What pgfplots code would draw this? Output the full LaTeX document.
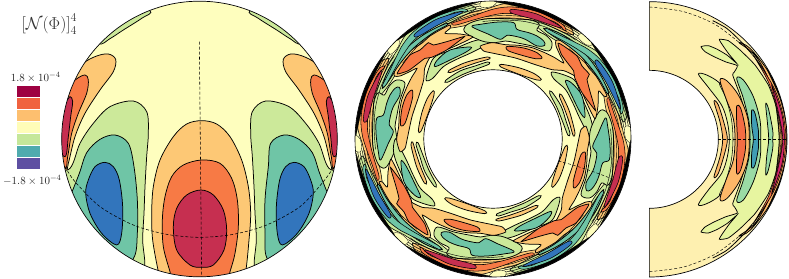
\documentclass[border=0pt]{standalone}
\usepackage{pgfplots}
\usepackage{pgfplotstable}
\pgfplotsset{compat=1.18}
\definecolor{cM}{HTML}{C62F50}
\definecolor{cO}{HTML}{F77A45}
\definecolor{cL}{HTML}{FDC875}
\definecolor{cY}{HTML}{FEFEBE}
\definecolor{cG}{HTML}{CCE99A}
\definecolor{cT}{HTML}{6FC5A6}
\definecolor{cB}{HTML}{3275BC}
\definecolor{lA}{HTML}{9E0142}
\definecolor{lB}{HTML}{F0623F}
\definecolor{lC}{HTML}{FDBF6F}
\definecolor{lD}{HTML}{FFFDB8}
\definecolor{lE}{HTML}{C5E79A}
\definecolor{lF}{HTML}{4FABAE}
\definecolor{lG}{HTML}{5E4FA2}
\definecolor{mY}{HTML}{FEF0B0}
\definecolor{mG}{HTML}{E7F5A0}
\definecolor{mT}{HTML}{9ADBA5}
\definecolor{mL}{HTML}{FDB768}
\definecolor{mO}{HTML}{F46D43}
\definecolor{mB}{HTML}{3F9DB5}
\definecolor{mM}{HTML}{D5246A}
\pgfplotsset{
  base/.style={hide axis,scale only axis,width=789pt,height=279pt,ymin=0,ymax=837,y dir=reverse,at={(0,0)},anchor=south west},
  blob/.style={fill=#1,draw=black,line width=.75pt,mark=none,smooth cycle,tension=.55},
  thin blob/.style={fill=#1,draw=black,line width=.55pt,mark=none,smooth cycle,tension=.55},
  cont/.style={draw=black,line width=.45pt,mark=none,smooth,fill=none},
  rect/.style={fill=#1,draw=white,line width=.4pt,mark=none,sharp plot},
  /pgfplots/table/rt/.style={x expr={429+cos(#1)*(\thisrow{x}-429)-sin(#1)*(\thisrow{y}-417)},y expr={417+sin(#1)*(\thisrow{x}-429)+cos(#1)*(\thisrow{y}-417)}},
}
% annulus sector: traced contours, repeated around the ring
\pgfplotstableread[row sep=\\]{x y\\86.4 576.8\\49.8 484\\37 431\\23 374\\40 275\\78 198\\109.5 176\\116 181\\102 228\\73.5 322\\67 417\\80 466\\92 516\\97 561\\}\tBa
\pgfplotstableread[row sep=\\]{x y\\82 541\\67 496\\49 446\\37 406\\33 356\\46 283\\82 213\\100 198\\103 203\\78 232\\60 295\\52 376\\59 426\\72 476\\87 528\\}\tBb
\pgfplotstableread[row sep=\\]{x y\\40 358\\54 286\\90 216\\94 221\\70 294\\52 360\\}\tBc
\pgfplotstableread[row sep=\\]{x y\\11 410\\17 344\\36 274\\67 208\\104 154\\108 157\\78 214.5\\49 279\\31 347\\17 410\\}\tBk
\pgfplotstableread[row sep=\\]{x y\\112 150\\125 128\\145 118\\147 136\\132 156\\120 163\\}\tPa
\pgfplotstableread[row sep=\\]{x y\\62.5 449\\58.5 384.6\\63 318.8\\80 254\\108.8 192.6\\127.2 163.7\\}\tLa
\pgfplotstableread[row sep=\\]{x y\\55.5 449.6\\51.5 384\\56 317\\73.8 251.2\\103 188.5\\121.8 159.2\\}\tLb
\pgfplotstableread[row sep=\\]{x y\\69.4 448.4\\65.5 385.2\\69.6 320.7\\86.5 257\\114.5 196.6\\132.6 168.2\\}\tLc
\pgfplotstableread[row sep=\\]{x y\\76.4 447.8\\72.4 385.9\\76.4 322.5\\92.9 260\\120.2 200.6\\138 172.7\\}\tLd
\pgfplotstableread[row sep=\\]{x y\\49.4 315\\67.5 248\\97.3 184.5\\116.5 154.7\\}\tLe
\pgfplotstableread[row sep=\\]{x y\\165 250\\150 300\\140 350\\135 380\\140 410\\135 450\\110 500\\90 500\\75 470\\68 430\\68 380\\70 330\\72 300\\85 278\\103 285\\118 258\\140 240\\}\tGa
\pgfplotstableread[row sep=\\]{x y\\228 240\\240 195\\258 168\\310 148\\365 125\\400 118\\430 125\\400 140\\360 160\\320 178\\280 200\\248 235\\}\tGb
\pgfplotstableread[row sep=\\]{x y\\150 455\\140 420\\146 380\\148 340\\155 300\\170 262\\185 232\\201 205\\175 217\\150 228\\133 228\\135 205\\155 178\\180 152\\215 130\\240 108\\270 90\\300 75\\300 85\\285 100\\330 102\\368 110\\350 122\\300 145\\262 158\\240 172\\224 205\\221 240\\206 290\\186 350\\171 420\\165 445\\}\tLO
\pgfplotstableread[row sep=\\]{x y\\205 392\\215 340\\232 295\\250 272\\252 285\\238 330\\225 365\\212 395\\}\tLi
\pgfplotstableread[row sep=\\]{x y\\297 211\\340 190\\380 178\\412 171\\420 176\\380 188\\340 202\\300 218\\}\tLj
\pgfplotstableread[row sep=\\]{x y\\287 241\\330 213\\375 198\\412 186\\418 192\\380 207\\335 225\\292 247\\}\tGi
\pgfplotstableread[row sep=\\]{x y\\97 265\\108 225\\125 195\\150 165\\180 135\\215 108\\255 85\\290 70\\292 75\\255 95\\222 118\\190 145\\165 172\\140 205\\118 240\\}\tTc
\pgfplotstableread[row sep=\\]{x y\\148 262\\150 285\\130 320\\122 345\\118 375\\130 395\\115 430\\92 480\\85 455\\78 400\\80 355\\100 345\\110 310\\120 285\\135 265\\}\tTa
\pgfplotstableread[row sep=\\]{x y\\255 200\\262 180\\300 150\\362 141\\350 155\\300 180\\}\tTb
\pgfplotstableread[row sep=\\]{x y\\142 222\\150 205\\180 165\\210 150\\235 128\\250 135\\290 125\\340 110\\340 113\\290 150\\245 172\\225 175\\205 190\\175 212\\}\tOa
\pgfplotstableread[row sep=\\]{x y\\151 370\\156 325\\170 285\\186 270\\188 290\\178 330\\165 370\\155 378\\}\tOb
\begin{document}
\begin{tikzpicture}
%====== sphere
\begin{axis}[base,xmin=0,xmax=2367]
\addplot[fill=cY,draw=none,mark=none,sharp plot] coordinates {(150,0)(1030,0)(1030,837)(150,837)};
\addplot[blob=cG] coordinates {(450,32)(425,55)(370,90)(330,116)(295,132)(240,90)(350,0)};
\addplot[blob=cG] coordinates {(750,32)(775,55)(830,90)(870,116)(905,132)(960,90)(850,0)};
\addplot[blob=cL] coordinates {(325,162)(347,178)(340,215)(300,270)(255,340)(225,410)(205,490)(190,535)(120,500)(120,300)(215,235)(250,190)(290,168)};
\addplot[blob=cO] coordinates {(255,225)(265,240)(260,280)(235,340)(215,400)(203,470)(192,505)(130,400)(150,300)(225,240)};
\addplot[blob=cM] coordinates {(210,290)(218,305)(212,350)(205,410)(195,470)(160,420)(165,350)(195,310)};
\addplot[blob=cL] coordinates {(872,162)(850,178)(857,215)(897,270)(942,340)(972,410)(992,490)(1007,535)(1077,500)(1077,300)(982,235)(947,190)(907,168)};
\addplot[blob=cO] coordinates {(942,225)(932,240)(937,280)(962,340)(982,400)(994,470)(1005,505)(1067,400)(1047,300)(972,240)};
\addplot[blob=cM] coordinates {(987,290)(979,305)(985,350)(992,410)(1002,470)(1037,420)(1032,350)(1002,310)};
\addplot[blob=cG] coordinates {(400,303)(440,335)(445,400)(440,470)(435,560)(432,640)(428,720)(432,810)(380,860)(120,700)(150,530)(210,505)(240,430)(280,370)(330,320)};
\addplot[blob=cT] coordinates {(345,405)(385,430)(402,500)(412,600)(412,700)(402,772)(350,810)(170,680)(210,590)(238,520)(260,458)(300,418)};
\addplot[blob=cB] coordinates {(315,487)(340,500)(358,540)(368,620)(365,700)(350,735)(305,700)(270,640)(257,580)(265,540)(285,500)};
\addplot[blob=cG] coordinates {(797,303)(757,335)(752,400)(757,470)(762,560)(765,640)(769,720)(765,810)(817,860)(1077,700)(1047,530)(987,505)(957,430)(917,370)(867,320)};
\addplot[blob=cT] coordinates {(852,405)(812,430)(805,500)(795,600)(795,700)(800,772)(847,810)(1027,680)(987,590)(959,520)(937,458)(897,418)};
\addplot[blob=cB] coordinates {(882,487)(857,500)(839,540)(829,620)(832,700)(847,735)(892,700)(927,640)(940,580)(932,540)(912,500)};
\addplot[blob=cL] coordinates {(605,362)(560,372)(520,410)(480,480)(460,560)(455,640)(458,720)(475,815)(490,880)(720,880)(737,815)(747,720)(752,640)(745,560)(725,480)(690,410)(650,372)};
\addplot[blob=cO] coordinates {(605,480)(550,495)(515,530)(495,590)(487,660)(490,740)(510,815)(530,880)(670,880)(690,815)(705,760)(715,680)(712,600)(695,535)(660,490)};
\addplot[blob=cM] coordinates {(603,570)(560,585)(530,625)(520,680)(530,750)(570,795)(605,802)(640,795)(672,750)(680,690)(670,630)(640,585)};
\addplot[black,densely dashed,line width=.55pt,mark=none,smooth] coordinates {(195,500)(225,545)(300,620)(400,675)(500,703)(600,712)(700,703)(800,675)(900,620)(970,545)(1002,500)};
\addplot[black,densely dashed,line width=.55pt,mark=none] coordinates {(598,125)(605,835)};
\fill[white,even odd rule] (axis cs:0,0) rectangle (axis cs:1035,837) (axis cs:598.5,417) circle[radius=137.8pt];
\draw[black,line width=.7pt] (axis cs:598.5,417) circle[radius=137.8pt];
\addplot[rect=lA] coordinates {(52,255)(122,255)(122,291)(52,291)};
\addplot[rect=lB] coordinates {(52,291)(122,291)(122,327)(52,327)};
\addplot[rect=lC] coordinates {(52,327)(122,327)(122,363)(52,363)};
\addplot[rect=lD] coordinates {(52,363)(122,363)(122,400)(52,400)};
\addplot[rect=lE] coordinates {(52,400)(122,400)(122,436)(52,436)};
\addplot[rect=lF] coordinates {(52,436)(122,436)(122,472)(52,472)};
\addplot[rect=lG] coordinates {(52,472)(122,472)(122,508)(52,508)};
\node[font=\fontsize{10.8}{12}\selectfont,text=black!85] at (axis cs:107,233) {$1.8\times10^{-4}$};
\node[font=\fontsize{10.8}{12}\selectfont,text=black!85] at (axis cs:97,541) {$-1.8\times10^{-4}$};
\node[font=\fontsize{18}{20}\selectfont,text=black!80] at (axis cs:148,72) {$\left[\mathcal{N}(\Phi)\right]^4_4$};
\end{axis}
%====== annulus
\begin{axis}[base,xmin=-1050,xmax=1317]
\addplot[fill=cY,draw=none,mark=none,sharp plot] coordinates {(0,0)(860,0)(860,837)(0,837)};
\pgfplotsinvokeforeach{0,90,180,270}{\addplot[thin blob=cL] table[rt=#1] {\tBa};}
\pgfplotsinvokeforeach{45,135,225,315}{\addplot[thin blob=cG] table[rt=#1] {\tBa};}
\pgfplotsinvokeforeach{0,90,180,270}{
\addplot[blob=cG] table[rt=#1] {\tGa};
\addplot[blob=cG] table[rt=#1] {\tGb};
}
\pgfplotsinvokeforeach{0,90,180,270}{
\addplot[blob=cL,tension=.4] table[rt=#1] {\tLO};
\addplot[blob=cL] table[rt=#1] {\tLi};
\addplot[blob=cL] table[rt=#1] {\tLj};
\addplot[blob=cG] table[rt=#1] {\tGi};
}
\pgfplotsinvokeforeach{0,45,90,135,180,225,270,315}{
\addplot[cont] table[rt=#1] {\tLa};
\addplot[cont] table[rt=#1] {\tLb};
\addplot[cont] table[rt=#1] {\tLc};
\addplot[cont] table[rt=#1] {\tLd};
\addplot[cont] table[rt=#1] {\tLe};
}
\pgfplotsinvokeforeach{0,90,180,270}{
\addplot[thin blob=cO] table[rt=#1] {\tBb};
\addplot[thin blob=cM] table[rt=#1] {\tBc};
\addplot[blob=cT] table[rt=#1] {\tTc};
}
\pgfplotsinvokeforeach{45,135,225,315}{
\addplot[thin blob=cT] table[rt=#1] {\tBb};
\addplot[thin blob=cB] table[rt=#1] {\tBc};
}
\pgfplotsinvokeforeach{0,45,90,135,180,225,270,315}{
\addplot[fill=black,draw=black,line width=.2pt,mark=none,smooth cycle,tension=.5] table[rt=#1] {\tBk};
\addplot[fill=cY,draw=black,line width=.35pt,mark=none,smooth cycle,tension=.55] table[rt=#1] {\tPa};
}
\pgfplotsinvokeforeach{0,90,180,270}{
\addplot[blob=cT] table[rt=#1] {\tTa};
\addplot[blob=cT] table[rt=#1] {\tTb};
\addplot[blob=cO,tension=.35] table[rt=#1] {\tOa};
\addplot[blob=cO] table[rt=#1] {\tOb};
}
\fill[white,even odd rule] (axis cs:-30,-10) rectangle (axis cs:880,847) (axis cs:429,417) circle[radius=138pt];
\draw[black,line width=.6pt] (axis cs:429,417) circle[radius=138pt];
\draw[black,line width=.7pt,fill=white] (axis cs:429,417) circle[radius=69.2pt];
\addplot[black,densely dashed,line width=.45pt,mark=none,smooth] coordinates {(625,483)(675,497)(735,517)(795,540)};
\end{axis}
%====== meridional slice
\begin{axis}[base,xmin=-1920,xmax=447,clip=false]
\fill[mY] (axis cs:28,5) arc[start angle=90,end angle=-90,radius=137.67pt] -- (axis cs:28,625) arc[start angle=-90,end angle=90,radius=69pt] -- cycle;
\addplot[blob=mG,tension=.3] coordinates {(238,118)(265,122)(300,150)(345,195)(385,255)(408,320)(418,418)(408,516)(385,581)(345,641)(300,686)(265,714)(238,718)(248,700)(268,672)(290,646)(262,670)(232,688)(205,699)(183,696)(195,681)(222,666)(258,650)(292,639)(283,620)(278,611)(300,551)(322,476)(326,418)(322,360)(300,285)(278,225)(283,216)(292,197)(258,186)(222,170)(195,155)(183,140)(205,137)(232,148)(262,166)(290,190)(268,164)(248,136)};
\addplot[blob=mG] coordinates {(175,222)(200,225)(240,250)(280,300)(312,366)(320,418)(312,470)(280,536)(240,586)(200,611)(175,614)(205,570)(245,520)(262,470)(268,418)(262,366)(245,316)(205,262)};
\addplot[thin blob=mY] coordinates {(238,250)(280,300)(304,360)(312,418)(304,476)(280,536)(238,586)(258,540)(274,480)(279,418)(274,356)(258,296)};
\addplot[blob=mL] coordinates {(240,240)(260,242)(295,285)(322,350)(328,418)(322,486)(295,550)(260,596)(240,598)(258,540)(280,480)(285,418)(280,356)(258,296)};
\addplot[blob=mO] coordinates {(290,318)(302,325)(315,380)(317,418)(315,456)(302,510)(290,520)(290,470)(292,418)(290,366)};
\addplot[blob=mL] coordinates {(222,305)(235,315)(255,380)(262,418)(255,456)(235,520)(222,530)(240,470)(248,418)(240,366)};
\addplot[blob=mT] coordinates {(290,235)(310,240)(340,290)(360,360)(362,418)(360,476)(340,545)(310,600)(290,602)(310,540)(327,470)(330,418)(327,366)(310,295)};
\addplot[blob=mB] coordinates {(335,330)(345,340)(355,390)(355,418)(355,446)(345,495)(335,503)(335,460)(340,418)(335,376)};
\addplot[blob=mT] coordinates {(377,312)(385,325)(398,390)(398,418)(398,446)(385,510)(377,523)(380,470)(386,418)(382,366)};
\addplot[blob=mL] coordinates {(297,128)(330,145)(385,215)(425,300)(445,418)(425,536)(385,621)(330,691)(297,708)(345,670)(385,600)(408,520)(418,418)(408,316)(385,236)(345,166)};
\addplot[cont] coordinates {(320,145)(375,215)(405,300)(423,418)(405,536)(375,621)(320,691)};
\addplot[thin blob=mO] coordinates {(340,165)(400,260)(428,340)(438,418)(428,496)(400,576)(340,671)(385,590)(412,505)(426,418)(412,331)(385,246)};
\addplot[thin blob=mM] coordinates {(395,255)(425,340)(433,418)(425,496)(395,581)(415,500)(428,418)(415,336)};
\addplot[fill=black,draw=black,line width=.2pt,mark=none,smooth cycle,tension=.5] coordinates {(380,205)(420,280)(440,360)(442,418)(440,476)(420,556)(380,631)(418,545)(437,470)(439,418)(437,366)(418,291)};
\addplot[cont,line width=.8pt] coordinates {(218,62)(260,85)(300,122)(335,160)};
\addplot[cont,line width=.8pt] coordinates {(218,774)(260,751)(300,714)(335,676)};
\addplot[black,densely dashed,line width=.45pt,mark=none,smooth] coordinates {(28,21)(131,35)(226.5,74)(309,137)};
\addplot[black,densely dashed,line width=.45pt,mark=none,smooth] coordinates {(28,815)(131,801)(226.5,762)(309,699)};
\addplot[black,densely dashed,line width=.55pt,mark=none] coordinates {(235,418)(441,418)};
\fill[white] (axis cs:28,5) arc[start angle=90,end angle=-90,radius=137.67pt] -- (axis cs:28,837) -- (axis cs:447,837) -- (axis cs:447,0) -- (axis cs:28,0) -- cycle;
\draw[black,line width=.7pt] (axis cs:28,5) arc[start angle=90,end angle=-90,radius=137.67pt] -- (axis cs:28,625) arc[start angle=-90,end angle=90,radius=69pt] -- cycle;
\end{axis}
\end{tikzpicture}
\end{document}
